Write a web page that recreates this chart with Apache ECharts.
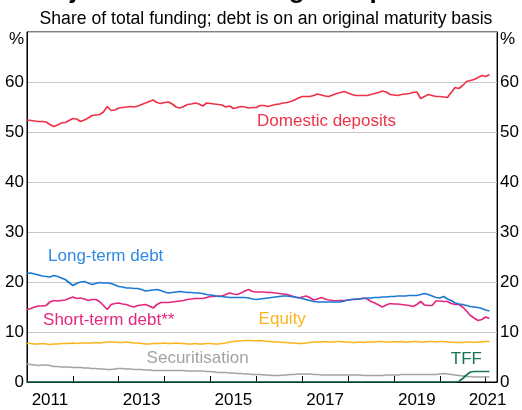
<!DOCTYPE html>
<html>
<head>
<meta charset="utf-8">
<script src="https://cdn.jsdelivr.net/npm/echarts/dist/echarts.min.js"></script>
<style>
  html, body { margin: 0; padding: 0; background: #fff; }
  #chart { width: 522px; height: 410px; }
</style>
</head>
<body>
<div id="chart"></div>
<script>
// monthly observations, Jan 2011 .. Feb 2021 (index 0 = Jan 2011)
const startYear = 2011;
const domesticDeposits = [
  52.4, 52.3, 52.2, 52.1, 52.1, 52.0, 51.5, 51.1, 51.4, 51.8, 51.9, 52.3,
  52.7, 52.6, 52.1, 52.4, 52.8, 53.3, 53.4, 53.5, 54.0, 55.1, 54.3, 54.4,
  54.8, 54.9, 55.0, 55.1, 55.0, 55.2, 55.5, 55.8, 56.1, 56.4, 55.9, 55.7,
  55.9, 56.0, 55.6, 55.0, 54.8, 55.1, 55.5, 55.6, 55.8, 55.6, 55.2, 55.8,
  55.7, 55.6, 55.5, 55.4, 55.0, 55.2, 54.7, 54.9, 55.1, 55.0, 54.8, 54.9,
  54.9, 55.3, 55.3, 55.1, 55.3, 55.5, 55.6, 55.8, 55.9, 56.1, 56.4, 56.8,
  57.1, 57.1, 57.1, 57.3, 57.6, 57.4, 57.2, 57.1, 57.4, 57.7, 57.9, 58.1,
  57.8, 57.5, 57.3, 57.3, 57.3, 57.3, 57.5, 57.7, 57.9, 58.2, 58.0, 57.5,
  57.4, 57.3, 57.5, 57.6, 57.7, 57.9, 58.0, 56.7, 57.1, 57.5, 57.3, 57.1,
  57.1, 57.0, 56.9, 57.9, 58.9, 58.7, 59.3, 60.1, 60.3, 60.5, 60.9, 61.3,
  61.1, 61.5
];
const longTermDebt = [
  21.7, 21.8, 21.6, 21.4, 21.2, 21.1, 21.0, 21.3, 21.1, 20.8, 20.5, 19.9,
  19.3, 19.7, 20.0, 20.1, 19.8, 19.5, 19.7, 19.9, 19.8, 19.8, 19.7, 19.4,
  19.1, 19.0, 18.8, 18.8, 18.7, 18.7, 18.5, 18.2, 18.3, 18.4, 18.5, 18.3,
  18.0, 17.8, 17.9, 18.0, 18.1, 18.0, 17.9, 17.9, 17.8, 17.8, 17.7, 17.5,
  17.4, 17.3, 17.1, 17.1, 17.0, 16.9, 16.9, 16.9, 16.9, 16.9, 16.8, 16.6,
  16.5, 16.6, 16.7, 16.8, 16.9, 17.0, 17.1, 17.2, 17.2, 17.1, 17.0, 16.9,
  16.7, 16.5, 16.3, 16.1, 16.0, 16.0, 16.0, 16.0, 16.0, 16.0, 16.0, 16.2,
  16.4, 16.5, 16.6, 16.6, 16.7, 16.8, 16.8, 16.9, 16.9, 17.0, 17.0, 17.1,
  17.1, 17.2, 17.2, 17.2, 17.3, 17.3, 17.3, 17.5, 17.7, 17.5, 17.2, 16.9,
  16.8, 17.1, 16.6, 16.3, 15.8, 15.6, 15.5, 15.3, 15.1, 15.0, 14.9, 14.7,
  14.4, 14.2
];
const shortTermDebt = [
  14.5, 14.7, 15.0, 15.2, 15.2, 15.3, 16.0, 16.3, 16.2, 16.3, 16.4, 16.7,
  17.0, 16.7, 16.8, 16.6, 16.3, 16.5, 16.5, 16.1, 15.3, 14.5, 15.5, 15.7,
  15.8, 15.6, 15.5, 15.2, 15.0, 15.3, 15.4, 15.5, 15.2, 14.8, 15.5, 15.9,
  15.9, 15.9, 16.0, 16.1, 16.2, 16.3, 16.5, 16.6, 16.7, 16.7, 16.7, 16.9,
  17.1, 17.1, 17.2, 17.2, 17.5, 17.8, 17.6, 17.5, 17.8, 18.2, 18.5, 18.1,
  18.0, 18.0, 18.0, 17.9, 17.9, 17.8, 17.7, 17.6, 17.5, 17.3, 17.0, 16.8,
  17.0, 17.2, 16.9, 16.4, 16.6, 16.9, 16.6, 16.4, 16.3, 16.2, 16.3, 16.3,
  16.4, 16.5, 16.5, 16.6, 16.8, 16.6, 16.1, 15.8, 15.4, 15.0, 15.4, 15.7,
  15.6, 15.6, 15.5, 15.4, 15.3, 15.1, 15.5, 16.1, 15.4, 15.3, 15.3, 16.2,
  16.2, 16.1, 16.1, 15.7, 15.5, 15.5, 15.0, 14.2, 13.3, 12.8, 12.3, 12.5,
  13.0, 12.7
];
const equity = [
  7.7, 7.7, 7.6, 7.6, 7.7, 7.6, 7.5, 7.6, 7.6, 7.7, 7.7, 7.7,
  7.8, 7.7, 7.8, 7.8, 7.8, 7.8, 7.9, 7.8, 7.9, 8.0, 8.0, 8.0,
  7.9, 7.9, 8.0, 7.9, 7.8, 7.8, 7.7, 7.6, 7.6, 7.7, 7.7, 7.7,
  7.8, 7.7, 7.7, 7.8, 7.7, 7.7, 7.6, 7.6, 7.7, 7.6, 7.6, 7.7,
  7.7, 7.6, 7.6, 7.7, 7.8, 8.0, 8.1, 8.2, 8.2, 8.3, 8.3, 8.3,
  8.2, 8.3, 8.2, 8.1, 8.1, 8.0, 8.0, 7.9, 7.9, 7.8, 7.8, 7.7,
  7.7, 7.8, 7.9, 8.0, 8.0, 8.0, 8.1, 8.0, 8.0, 8.1, 8.1, 8.0,
  8.0, 7.9, 7.9, 8.0, 7.9, 8.0, 8.0, 8.0, 8.1, 8.1, 8.0, 8.0,
  8.1, 8.0, 8.1, 8.0, 8.0, 8.1, 8.1, 8.0, 8.0, 8.1, 8.1, 8.0,
  8.1, 8.1, 8.0, 8.0, 7.9, 7.9, 7.9, 8.0, 8.0, 7.9, 8.0, 8.0,
  8.1, 8.1
];
const securitisation = [
  3.6, 3.5, 3.4, 3.3, 3.4, 3.4, 3.3, 3.1, 3.1, 3.0, 3.0, 3.0,
  2.9, 2.9, 2.9, 2.8, 2.8, 2.7, 2.7, 2.6, 2.6, 2.5, 2.5, 2.6,
  2.7, 2.7, 2.6, 2.6, 2.5, 2.5, 2.5, 2.4, 2.4, 2.3, 2.3, 2.3,
  2.3, 2.3, 2.3, 2.3, 2.3, 2.3, 2.2, 2.2, 2.2, 2.2, 2.2, 2.1,
  2.1, 2.0, 1.9, 1.9, 1.9, 1.8, 1.8, 1.7, 1.7, 1.6, 1.6, 1.5,
  1.5, 1.5, 1.4, 1.4, 1.3, 1.3, 1.3, 1.4, 1.4, 1.5, 1.5, 1.6,
  1.6, 1.6, 1.6, 1.5, 1.5, 1.4, 1.4, 1.4, 1.4, 1.4, 1.4, 1.4,
  1.4, 1.4, 1.4, 1.4, 1.3, 1.3, 1.3, 1.3, 1.3, 1.3, 1.4, 1.4,
  1.4, 1.4, 1.5, 1.5, 1.5, 1.5, 1.5, 1.5, 1.5, 1.5, 1.5, 1.5,
  1.6, 1.7, 1.6, 1.5, 1.4, 1.3, 1.2, 1.1, 1.1, 1.0, 1.0, 1.0,
  1.0, 1.0
];
// TFF: zero until the facility opened in 2020
const tff = [
  0, 0, 0, 0, 0, 0, 0, 0, 0, 0, 0, 0,
  0, 0, 0, 0, 0, 0, 0, 0, 0, 0, 0, 0,
  0, 0, 0, 0, 0, 0, 0, 0, 0, 0, 0, 0,
  0, 0, 0, 0, 0, 0, 0, 0, 0, 0, 0, 0,
  0, 0, 0, 0, 0, 0, 0, 0, 0, 0, 0, 0,
  0, 0, 0, 0, 0, 0, 0, 0, 0, 0, 0, 0,
  0, 0, 0, 0, 0, 0, 0, 0, 0, 0, 0, 0,
  0, 0, 0, 0, 0, 0, 0, 0, 0, 0, 0, 0,
  0, 0, 0, 0, 0, 0, 0, 0, 0, 0, 0, 0,
  0, 0, 0, 0, 0, 0.1, 0.7, 1.4, 2.0, 2.1, 2.1, 2.1,
  2.1, 2.1
];
const yearTicks = [12, 24, 36, 48, 60, 72, 84, 96, 108, 120];
const yearLabels = [6, 30, 54, 78, 102];
const lastYearLabel = { text: '2021', at: 120.5 };

const font = 'Arial, "Liberation Sans", sans-serif';
const toXY = arr => arr.map((v, i) => [i, v]);

const chart = echarts.init(document.getElementById('chart'), null, { renderer: 'canvas' });

const seriesDefs = [
  { name: 'Securitisation', data: securitisation, color: '#a3a3a3' },
  { name: 'Equity', data: equity, color: '#fbb41e' },
  { name: 'Short-term debt**', data: shortTermDebt, color: '#e3287f' },
  { name: 'Long-term debt', data: longTermDebt, color: '#1b79d2' },
  { name: 'Domestic deposits', data: domesticDeposits, color: '#ee3349' },
  { name: 'TFF', data: tff, color: '#1c7458' }
];

// label anchors in data coords [month, value]
const labels = [
  { text: 'Domestic deposits', at: [60.2, 52.1], color: '#ee3349' },
  { text: 'Long-term debt', at: [5.5, 25.1], color: '#2f8ae0' },
  { text: 'Short-term debt**', at: [4.2, 12.4], color: '#e3287f' },
  { text: 'Equity', at: [60.6, 12.5], color: '#fbb41e' },
  { text: 'Securitisation', at: [31.3, 4.7], color: '#a3a3a3' },
  { text: 'TFF', at: [110.9, 4.5], color: '#1c7458' }
];

const yLabel = {
  fontFamily: font, fontSize: 17, color: '#000', margin: 3,
  formatter: v => v === 70 ? '{p|%}' : String(v),
  rich: { p: { fontFamily: font, fontSize: 17, color: '#000', padding: [15, 0, 0, 0] } }
};

chart.setOption({
  animation: false,
  grid: { left: 27, right: 19, top: 32, bottom: 28, show: true, borderColor: '#000', borderWidth: 1 },
  xAxis: {
    type: 'value', min: 0, max: 123,
    axisLine: { show: true, lineStyle: { color: '#000', width: 1 } },
    axisTick: { show: true, inside: true, length: 6, lineStyle: { color: '#000' }, customValues: yearTicks },
    axisLabel: {
      fontFamily: font, fontSize: 17, color: '#000', margin: 10,
      customValues: yearLabels,
      formatter: v => String(startYear + Math.floor(v / 12))
    },
    splitLine: { show: false }
  },
  yAxis: [
    {
      type: 'value', min: 0, max: 70, interval: 10, position: 'left',
      axisLine: { show: true, lineStyle: { color: '#000' } },
      axisTick: { show: false },
      axisLabel: yLabel,
      splitLine: { show: true, lineStyle: { color: '#c8c8c8', width: 1 } }
    },
    {
      type: 'value', min: 0, max: 70, interval: 10, position: 'right',
      axisLine: { show: true, lineStyle: { color: '#000' } },
      axisTick: { show: false },
      axisLabel: yLabel,
      splitLine: { show: false }
    }
  ],
  series: seriesDefs.map(s => ({
    name: s.name, type: 'line', data: toXY(s.data),
    showSymbol: false, symbol: 'none',
    lineStyle: { color: s.color, width: 1.7 },
    itemStyle: { color: s.color }
  }))
});

const texts = labels.map(l => {
  const p = chart.convertToPixel({ xAxisIndex: 0, yAxisIndex: 0 }, l.at);
  return {
    type: 'text', x: p[0], y: p[1],
    style: { text: l.text, fill: l.color, font: '17px ' + font, textVerticalAlign: 'middle', textAlign: 'left' }
  };
});

// the last year label sits past the final tick, so it is placed by hand on the axis scale
const lastX = chart.convertToPixel({ xAxisIndex: 0 }, lastYearLabel.at);
const axisY = chart.convertToPixel({ yAxisIndex: 0 }, 0);
texts.push({
  type: 'text', x: lastX, y: axisY + 10,
  style: { text: lastYearLabel.text, fill: '#000', font: '17px ' + font, textAlign: 'center', textVerticalAlign: 'top' }
});

chart.setOption({
  graphic: [
    {
      type: 'text', x: 34, y: -22,
      style: { text: "Major Banks' Funding Composition*", fill: '#000', font: 'bold 26px ' + font, textAlign: 'left', textVerticalAlign: 'top' }
    },
    {
      type: 'text', x: 266, y: 19,
      style: { text: 'Share of total funding; debt is on an original maturity basis', fill: '#000', font: '17.6px ' + font, textAlign: 'center', textVerticalAlign: 'middle' }
    }
  ].concat(texts)
});
</script>
</body>
</html>
